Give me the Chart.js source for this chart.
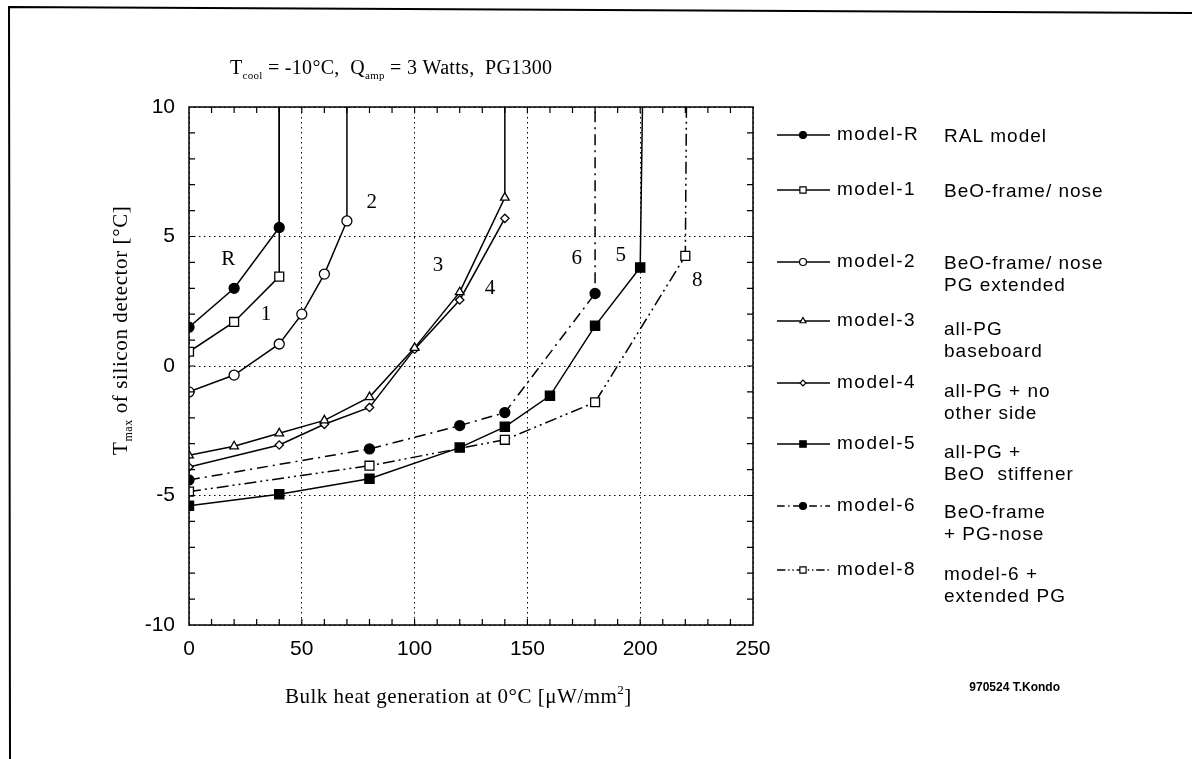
<!DOCTYPE html>
<html>
<head>
<meta charset="utf-8">
<script src="https://cdn.jsdelivr.net/npm/chart.js@4"></script>
<style>
  html, body { margin: 0; padding: 0; background: #fff; }
  canvas { display: block; }
</style>
</head>
<body>
<canvas id="chart" width="1192" height="759"></canvas>
<script>
// Tmax of the silicon detector vs bulk heat generation, one curve per model
const modelNames = ["model-R", "model-1", "model-2", "model-3", "model-4", "model-5", "model-6", "model-8"];
const modelNotes = [
  ["RAL model"],
  ["BeO-frame/ nose"],
  ["BeO-frame/ nose", "PG extended"],
  ["all-PG", "baseboard"],
  ["all-PG + no", "other side"],
  ["all-PG +", "BeO  stiffener"],
  ["BeO-frame", "+ PG-nose"],
  ["model-6 +", "extended PG"]
];
const curveTags = ["R", "1", "2", "3", "4", "5", "6", "8"];

// bulk heat [uW/mm2] and Tmax [C]; a runaway curve ends on the 10 C top edge
const heatR = [0, 20, 40, 40];
const tmaxR = [1.5, 3.0, 5.35, 10];
const heat1 = [0, 20, 40, 40];
const tmax1 = [0.55, 1.7, 3.45, 10];
const heat2 = [0, 20, 40, 50, 60, 70, 70];
const tmax2 = [-1.0, -0.35, 0.85, 2.0, 3.55, 5.6, 10];
const heat3 = [0, 20, 40, 60, 80, 100, 120, 140, 140];
const tmax3 = [-3.45, -3.1, -2.6, -2.1, -1.2, 0.7, 2.85, 6.5, 10];
const heat4 = [0, 40, 60, 80, 100, 120, 140];
const tmax4 = [-3.9, -3.05, -2.25, -1.6, 0.65, 2.55, 5.7];
const heat5 = [0, 40, 80, 120, 140, 160, 180, 200, 201];
const tmax5 = [-5.4, -4.95, -4.35, -3.15, -2.35, -1.15, 1.55, 3.8, 10];
const heat6 = [0, 80, 120, 140, 180, 180];
const tmax6 = [-4.4, -3.2, -2.3, -1.8, 2.8, 10];
const heat8 = [0, 80, 140, 180, 220, 220.5];
const tmax8 = [-4.85, -3.85, -2.85, -1.4, 4.25, 10];

const heatSets = [heatR, heat1, heat2, heat3, heat4, heat5, heat6, heat8];
const tmaxSets = [tmaxR, tmax1, tmax2, tmax3, tmax4, tmax5, tmax6, tmax8];

// where the curve numbers sit, in data units
const tagAt = [[17.4, 4.1], [34.1, 2.0], [81, 6.3], [110.4, 3.9], [133.4, 3.0], [191.4, 4.25], [171.9, 4.15], [225.3, 3.3]];

// marker look per model
const looks = [
  { style: "circle", fill: true, r: 5, dash: [] },
  { style: "rect", fill: false, r: 6.3, dash: [] },
  { style: "circle", fill: false, r: 5, dash: [] },
  { style: "triangle", fill: false, r: 5, dash: [] },
  { style: "rectRot", fill: false, r: 4.2, dash: [] },
  { style: "rect", fill: true, r: 6.5, dash: [] },
  { style: "circle", fill: true, r: 5, dash: [11, 5, 2, 5] },
  { style: "rect", fill: false, r: 6.3, dash: [12, 4, 2, 4, 2, 4] }
];

const datasets = modelNames.map((name, i) => ({
  label: name,
  data: heatSets[i].map((x, j) => ({ x: x, y: tmaxSets[i][j] })),
  showLine: true,
  tension: 0,
  borderColor: "#000",
  borderWidth: 1.5,
  borderDash: looks[i].dash,
  pointStyle: looks[i].style,
  pointRadius: c => (c.raw && c.raw.y >= 10 ? 0 : looks[i].r),
  pointBackgroundColor: looks[i].fill ? "#000" : "#fff",
  pointBorderColor: "#000",
  pointBorderWidth: 1.3
}));

function drawRuns(ctx, x, y, runs, family, spacing) {
  ctx.letterSpacing = (spacing || 0) + "px";
  for (const r of runs) {
    ctx.font = r.size + "px " + family;
    ctx.fillText(r.t, x, y + (r.dy || 0));
    x += ctx.measureText(r.t).width;
  }
  ctx.letterSpacing = "0px";
}

const decor = {
  id: "decor",
  beforeDraw(chart) {
    const ctx = chart.ctx;
    ctx.save();
    ctx.fillStyle = "#fff";
    ctx.fillRect(0, 0, chart.width, chart.height);
    ctx.restore();
  },
  afterDraw(chart) {
    const ctx = chart.ctx;
    const a = chart.chartArea;
    const xs = chart.scales.x, ys = chart.scales.y;
    ctx.save();
    ctx.strokeStyle = "#000";
    ctx.fillStyle = "#000";

    // outer frame of the sheet (top and left only)
    ctx.lineWidth = 2;
    ctx.beginPath();
    ctx.moveTo(10, 759);
    ctx.lineTo(9, 7);
    ctx.lineTo(1192, 13);
    ctx.stroke();

    // plot frame and inward ticks
    ctx.lineWidth = 1.5;
    ctx.strokeRect(a.left, a.top, a.right - a.left, a.bottom - a.top);
    ctx.lineWidth = 1.2;
    ctx.beginPath();
    for (let v = xs.min + 10; v < xs.max; v += 10) {
      const px = xs.getPixelForValue(v);
      ctx.moveTo(px, a.bottom); ctx.lineTo(px, a.bottom - 6);
      ctx.moveTo(px, a.top); ctx.lineTo(px, a.top + 6);
    }
    for (let v = ys.min + 1; v < ys.max; v += 1) {
      const py = ys.getPixelForValue(v);
      ctx.moveTo(a.left, py); ctx.lineTo(a.left + 6, py);
      ctx.moveTo(a.right, py); ctx.lineTo(a.right - 6, py);
    }
    ctx.stroke();

    const serif = "'Liberation Serif', 'Times New Roman', serif";
    const sans = "'Liberation Sans', Arial, sans-serif";

    // title
    ctx.textBaseline = "alphabetic";
    ctx.textAlign = "left";
    drawRuns(ctx, 230, 74, [
      { t: "T", size: 20 }, { t: "cool", size: 11, dy: 5 },
      { t: " = -10°C,  Q", size: 20 }, { t: "amp", size: 11, dy: 5 },
      { t: " = 3 Watts,  PG1300", size: 20 }
    ], serif, 0.3);

    // x axis title
    drawRuns(ctx, 285, 703, [
      { t: "Bulk heat generation at 0°C [μW/mm", size: 21 },
      { t: "2", size: 13, dy: -9 }, { t: "]", size: 21 }
    ], serif, 0.5);

    // y axis title
    ctx.save();
    ctx.translate(127, 455);
    ctx.rotate(-Math.PI / 2);
    drawRuns(ctx, 0, 0, [
      { t: "T", size: 21 }, { t: "max", size: 12, dy: 5 },
      { t: " of silicon detector [°C]", size: 21 }
    ], serif, 0.6);
    ctx.restore();

    // curve numbers
    ctx.font = "21px " + serif;
    ctx.textAlign = "center";
    ctx.textBaseline = "middle";
    curveTags.forEach((t, i) => {
      ctx.fillText(t, xs.getPixelForValue(tagAt[i][0]), ys.getPixelForValue(tagAt[i][1]));
    });

    // legend on the right
    const rowY = [135, 190, 262, 321, 383, 444, 506, 570];
    const noteY = [137, 192, 264, 330, 392, 453, 513, 575];
    ctx.textAlign = "left";
    ctx.textBaseline = "middle";
    modelNames.forEach((name, i) => {
      const ds = chart.data.datasets[i];
      ctx.lineWidth = 1.5;
      ctx.setLineDash(looks[i].dash.map(d => d * 0.7));
      ctx.beginPath();
      ctx.moveTo(777, rowY[i]);
      ctx.lineTo(830, rowY[i]);
      ctx.stroke();
      ctx.setLineDash([]);
      ctx.fillStyle = ds.pointBackgroundColor;
      ctx.lineWidth = 1.2;
      Chart.helpers.drawPoint(ctx, {
        pointStyle: looks[i].style, radius: looks[i].r * 0.7, rotation: 0, borderWidth: 1.2
      }, 803, rowY[i]);
      ctx.fillStyle = "#000";
      ctx.font = "19px " + sans;
      ctx.letterSpacing = "1.5px";
      ctx.fillText(name, 837, rowY[i]);
      ctx.letterSpacing = "1px";
      modelNotes[i].forEach((line, k) => ctx.fillText(line, 944, noteY[i] + k * 22));
      ctx.letterSpacing = "0px";
    });

    // stamp
    ctx.font = "bold 12px " + sans;
    ctx.textAlign = "right";
    ctx.textBaseline = "middle";
    ctx.fillText("970524 T.Kondo", 1060, 688);
    ctx.restore();
  }
};

const tickFont = { family: "'Liberation Sans', Arial, sans-serif", size: 21 };

new Chart(document.getElementById("chart").getContext("2d"), {
  type: "scatter",
  data: { datasets: datasets },
  options: {
    responsive: false,
    animation: false,
    devicePixelRatio: 1,
    events: [],
    layout: { padding: { left: 0, top: 107, right: 439, bottom: 0 } },
    plugins: { legend: { display: false }, tooltip: { enabled: false } },
    scales: {
      x: {
        type: "linear",
        min: 0,
        max: 250,
        afterFit: s => { s.height = 134; },
        ticks: { stepSize: 50, padding: 12, color: "#000", font: tickFont, maxRotation: 0 },
        grid: { color: "#000", lineWidth: 1, drawTicks: false },
        border: { display: false, dash: [1.5, 3.5] }
      },
      y: {
        type: "linear",
        min: -10,
        max: 10,
        afterFit: s => { s.width = 189; },
        ticks: { stepSize: 5, padding: 14, color: "#000", font: tickFont },
        grid: { color: "#000", lineWidth: 1, drawTicks: false },
        border: { display: false, dash: [1.5, 3.5] }
      }
    }
  },
  plugins: [decor]
});
</script>
</body>
</html>
